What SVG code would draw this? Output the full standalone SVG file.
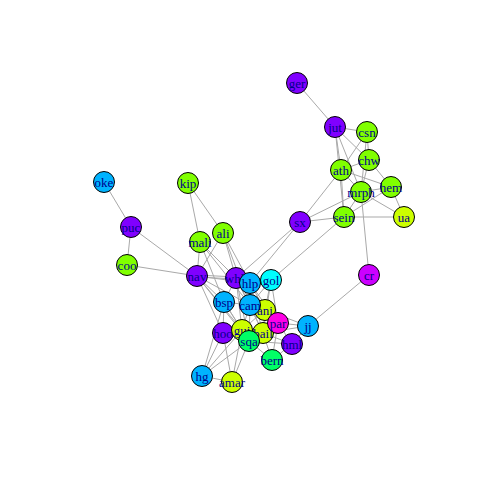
<svg xmlns="http://www.w3.org/2000/svg" width="480" height="480" viewBox="0 0 480 480">
<style>
.e{stroke:#A9A9A9;stroke-width:1;fill:none}
.n circle{stroke:#000;stroke-width:1}
.n text{font-family:"Liberation Serif",serif;font-size:13px;fill:#00008B;text-anchor:middle;dominant-baseline:central}
.pu{fill:#8000FF}.gr{fill:#80FF00}.ye{fill:#CCFF00}.bl{fill:#00B3FF}.cy{fill:#00FFFF}.sg{fill:#00FF66}.vi{fill:#CC00FF}.mg{fill:#FF00E6}
</style>
<rect width="480" height="480" fill="#fff"/>
<g id="edges" class="e">
<path d="M297,83L335,127M335,127L367,132M335,127L341,170M335,127L369,160M335,127L361,192M335,127L344,217M367,132L369,160M367,132L341,170M367,132L361,192M369,160L341,170M369,160L361,192M369,160L391,187M341,170L361,192M341,170L391,187M341,170L344,217M341,170L300,222M361,192L391,187M361,192L344,217M361,192L404,217M361,192L369,275M361,192L300,222M391,187L404,217M391,187L344,217M344,217L404,217M344,217L300,222M344,217L271,280M300,222L236,278M300,222L250,283M369,275L308,326"/>
<path d="M104,182L131,227M131,227L127,265M131,227L197,276M127,265L197,276M188,183L200,242M188,183L223,233M200,242L197,276M200,242L236,278M200,242L250,305M200,242L224,302M223,233L197,276M223,233L236,278M223,233L250,283M223,233L250,305"/>
<path d="M197,275L236,277M197,277L236,279M197,276L224,302M197,276L250,305M197,276L223,333M197,276L242,330M197,276L249,341M197,276L250,283"/>
<path d="M236,278L250,283M236,278L271,280M236,278L224,302M236,278L250,305M236,278L265,310M236,278L242,330M236,278L263,333M236,278L249,341M236,278L278,323M250,283L271,280M250,283L250,305M250,283L265,310M250,283L263,333M250,283L278,323M271,280L250,305M271,280L265,310M271,280L278,323M271,280L263,333"/>
<path d="M224,302L250,305M224,302L223,333M224,302L242,330M224,302L249,341M224,302L202,376M250,305L265,310M250,305L242,330M250,305L263,333M250,305L278,323M250,305L249,341M265,310L278,323M265,310L263,333M265,310L242,330M265,310L308,326M278,323L308,326M278,323L292,344M278,323L263,333M278,323L249,341M278,323L272,360M308,326L292,344M308,326L263,333"/>
<path d="M223,333L242,330M223,333L249,341M223,333L202,376M223,333L232,382M242,330L263,333M242,330L249,341M242,330L232,382M242,330L202,376M263,333L249,341M263,333L292,344M263,333L272,360M249,341L272,360M249,341L292,344M249,341L232,382M249,341L202,376M292,344L272,360M202,376L232,382"/>
</g>
<g id="ger" class="n"><circle class="pu" cx="297" cy="83" r="10.5"/><text x="297" y="83">ger</text></g>
<g id="jut" class="n"><circle class="pu" cx="335" cy="127" r="10.5"/><text x="335" y="127">jut</text></g>
<g id="csn" class="n"><circle class="gr" cx="367" cy="132" r="10.5"/><text x="367" y="132">csn</text></g>
<g id="chw" class="n"><circle class="gr" cx="369" cy="160" r="10.5"/><text x="369" y="160">chw</text></g>
<g id="ath" class="n"><circle class="gr" cx="341" cy="170" r="10.5"/><text x="341" y="170">ath</text></g>
<g id="hem" class="n"><circle class="gr" cx="391" cy="187" r="10.5"/><text x="391" y="187">hem</text></g>
<g id="mrph" class="n"><circle class="gr" cx="361" cy="192" r="10.5"/><text x="361" y="192">mrph</text></g>
<g id="ua" class="n"><circle class="ye" cx="404" cy="217" r="10.5"/><text x="404" y="217">ua</text></g>
<g id="sein" class="n"><circle class="gr" cx="344" cy="217" r="10.5"/><text x="344" y="217">sein</text></g>
<g id="sx" class="n"><circle class="pu" cx="300" cy="222" r="10.5"/><text x="300" y="222">sx</text></g>
<g id="cr" class="n"><circle class="vi" cx="369" cy="275" r="10.5"/><text x="369" y="275">cr</text></g>
<g id="oke" class="n"><circle class="bl" cx="104" cy="182" r="10.5"/><text x="104" y="182">oke</text></g>
<g id="puc" class="n"><circle class="pu" cx="131" cy="227" r="10.5"/><text x="131" y="227">puc</text></g>
<g id="coo" class="n"><circle class="gr" cx="127" cy="265" r="10.5"/><text x="127" y="265">coo</text></g>
<g id="kip" class="n"><circle class="gr" cx="188" cy="183" r="10.5"/><text x="188" y="183">kip</text></g>
<g id="ali" class="n"><circle class="gr" cx="223" cy="233" r="10.5"/><text x="223" y="233">ali</text></g>
<g id="mali" class="n"><circle class="gr" cx="200" cy="242" r="10.5"/><text x="200" y="242">mali</text></g>
<g id="nav" class="n"><circle class="pu" cx="197" cy="276" r="10.5"/><text x="197" y="276">nav</text></g>
<g id="whk" class="n"><circle class="pu" cx="236" cy="278" r="10.5"/><text x="236" y="278">whk</text></g>
<g id="hlp" class="n"><circle class="bl" cx="250" cy="283" r="10.5"/><text x="250" y="283">hlp</text></g>
<g id="gol" class="n"><circle class="cy" cx="271" cy="280" r="10.5"/><text x="271" y="280">gol</text></g>
<g id="bsp" class="n"><circle class="bl" cx="224" cy="302" r="10.5"/><text x="224" y="302">bsp</text></g>
<g id="ani" class="n"><circle class="ye" cx="265" cy="310" r="10.5"/><text x="265" y="310">ani</text></g>
<g id="cam" class="n"><circle class="bl" cx="250" cy="305" r="10.5"/><text x="250" y="305">cam</text></g>
<g id="jj" class="n"><circle class="bl" cx="308" cy="326" r="10.5"/><text x="308" y="326">jj</text></g>
<g id="hoo" class="n"><circle class="pu" cx="223" cy="333" r="10.5"/><text x="223" y="333">hoo</text></g>
<g id="gui" class="n"><circle class="ye" cx="242" cy="330" r="10.5"/><text x="242" y="330">gui</text></g>
<g id="bail" class="n"><circle class="ye" cx="263" cy="333" r="10.5"/><text x="263" y="333">bail</text></g>
<g id="hml" class="n"><circle class="pu" cx="292" cy="344" r="10.5"/><text x="292" y="344">hml</text></g>
<g id="sqa" class="n"><circle class="sg" cx="249" cy="341" r="10.5"/><text x="249" y="341">sqa</text></g>
<g id="par" class="n"><circle class="mg" cx="278" cy="323" r="10.5"/><text x="278" y="323">par</text></g>
<g id="bern" class="n"><circle class="sg" cx="272" cy="360" r="10.5"/><text x="272" y="360">bern</text></g>
<g id="hg" class="n"><circle class="bl" cx="202" cy="376" r="10.5"/><text x="202" y="376">hg</text></g>
<g id="amar" class="n"><circle class="ye" cx="232" cy="382" r="10.5"/><text x="232" y="382">amar</text></g>
</svg>
